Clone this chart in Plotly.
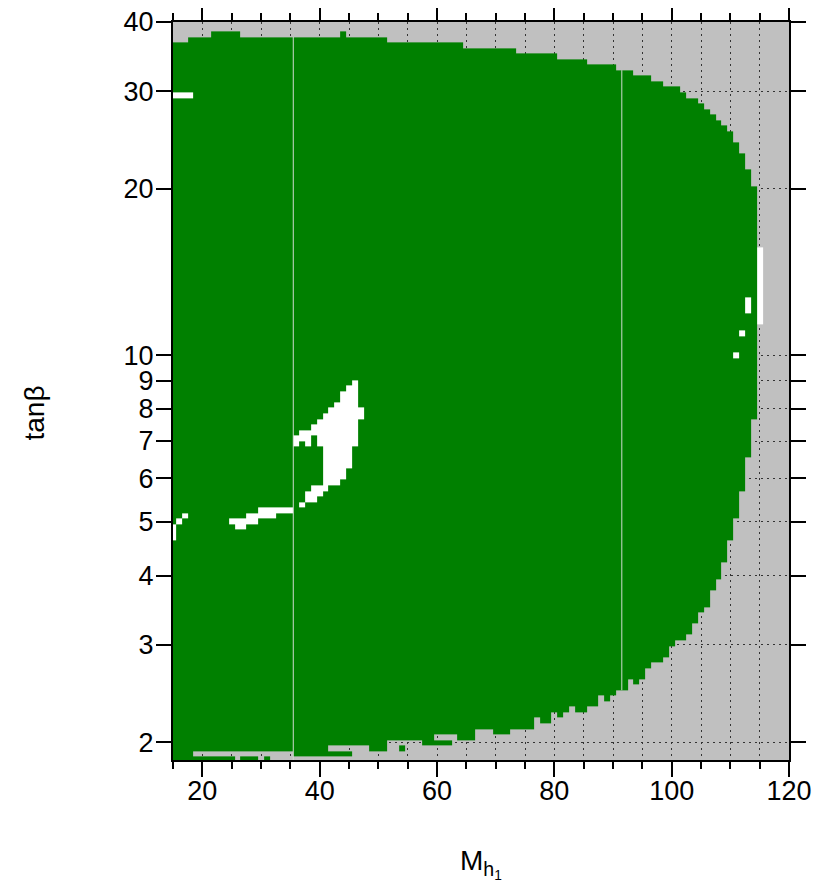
import numpy as np
import plotly.graph_objects as go

# ---------------- data ----------------
# scan columns: M_h1 in GeV (1 GeV steps); rows: 100*log10(tan beta) (0.01 decade steps)
M_cols = list(range(15, 121))
row_min, row_max = 27, 160

# highest / lowest row (100*log10 tanb) of the green (allowed) region, per column M = 15..114
top_row = [
    156, 156, 156, 157, 157, 157, 157, 158, 158, 158,
    158, 158, 157, 157, 157, 157, 157, 157, 157, 157,
    157, 157, 157, 157, 157, 157, 157, 157, 157, 158,
    157, 157, 157, 157, 157, 157, 157, 156, 156, 156,
    156, 156, 156, 156, 156, 156, 156, 156, 156, 156,
    155, 155, 155, 155, 155, 155, 155, 155, 155, 154,
    154, 154, 154, 154, 154, 154, 153, 153, 153, 153,
    153, 152, 152, 152, 152, 152, 151, 151, 151, 150,
    150, 150, 149, 149, 148, 148, 148, 147, 146, 146,
    145, 144, 143, 142, 141, 140, 138, 136, 133, 130,
]
bot_row = [
    27, 27, 27, 27, 27, 27, 27, 27, 27, 27,
    27, 27, 27, 27, 27, 27, 27, 27, 27, 27,
    27, 28, 28, 28, 28, 28, 28, 28, 28, 28,
    28, 30, 30, 30, 29, 29, 29, 31, 31, 29,
    31, 31, 31, 30, 30, 30, 30, 30, 32, 31,
    31, 31, 33, 33, 33, 32, 32, 32, 33, 33,
    33, 33, 35, 34, 34, 36, 35, 36, 37, 36,
    36, 37, 37, 39, 38, 39, 40, 40, 42, 41,
    42, 44, 45, 45, 46, 48, 49, 49, 50, 52,
    54, 55, 58, 60, 63, 67, 71, 76, 82, 89,
]

# excluded points inside the green area (shown as background): (M_lo, M_hi, row_lo, row_hi)
gray_holes = [
    (19, 35, 28, 28), (26, 26, 27, 27), (30, 30, 27, 27), (32, 35, 27, 27),
    (42, 45, 29, 29), (54, 54, 30, 30), (60, 62, 31, 31),
]

# white points: (M_lo, M_hi, row_lo, row_hi)
white_cells = [
    (15, 18, 147, 147),
    (15, 15, 67, 69), (16, 16, 70, 70), (17, 17, 71, 71),
    (25, 29, 70, 70), (26, 27, 69, 69), (28, 29, 71, 71), (30, 32, 71, 72), (33, 35, 72, 72),
    (36, 36, 84, 85), (37, 37, 85, 86), (37, 37, 73, 73), (38, 38, 84, 86), (38, 38, 74, 75),
    (39, 39, 86, 87), (39, 39, 74, 76), (40, 40, 84, 88), (40, 40, 75, 76), (41, 41, 76, 89),
    (42, 42, 77, 90), (43, 43, 77, 91), (44, 44, 78, 93), (45, 45, 80, 94), (46, 46, 84, 95),
    (47, 47, 89, 90),
    (111, 111, 100, 100), (112, 112, 104, 104), (113, 113, 108, 110), (115, 115, 106, 119),
]

# thin light seams between scan columns
seam_M = [35.5, 91.5]

x_ticks = [20, 40, 60, 80, 100, 120]
y_ticks = [2, 3, 4, 5, 6, 7, 8, 9, 10, 20, 30, 40]
x_title = "M<sub>h<sub>1</sub></sub>"
y_title = "tanβ"

# ---------------- build grid ----------------
rows = list(range(row_min, row_max + 1))
nr, nc = len(rows), len(M_cols)
z = np.full((nr, nc), np.nan)
for j, (t, b) in enumerate(zip(top_row, bot_row)):
    for i, r in enumerate(rows):
        if b <= r <= t:
            z[i, j] = 1.0


def col_idx(m):
    return M_cols.index(m)


for (m0, m1, r0, r1) in gray_holes:
    for m in range(m0, m1 + 1):
        for r in range(r0, r1 + 1):
            z[r - row_min, col_idx(m)] = np.nan
for (m0, m1, r0, r1) in white_cells:
    for m in range(m0, m1 + 1):
        for r in range(r0, r1 + 1):
            z[r - row_min, col_idx(m)] = 2.0

x_edges = [m - 0.5 for m in M_cols] + [M_cols[-1] + 0.5]
y_edges = [10 ** ((r - 0.5) / 100.0) for r in rows] + [10 ** ((rows[-1] + 0.5) / 100.0)]

fig = go.Figure()
fig.add_trace(go.Heatmap(
    x=x_edges, y=y_edges, z=z,
    colorscale=[[0, "#008000"], [0.5, "#008000"], [0.5, "#ffffff"], [1, "#ffffff"]],
    zmin=1, zmax=2, showscale=False, hoverinfo="skip",
))

for s in seam_M:
    j = col_idx(int(s - 0.5))
    fig.add_trace(go.Scatter(
        x=[s, s],
        y=[10 ** ((bot_row[j] - 0.5) / 100.0), 10 ** ((top_row[j] + 0.5) / 100.0)],
        mode="lines", line=dict(color="#cfdacf", width=1),
        hoverinfo="skip", showlegend=False,
    ))

family = "Liberation Sans, Arial, Helvetica, sans-serif"
font = dict(family=family, size=27, color="black")
grid = dict(showgrid=True, gridcolor="#333333", gridwidth=1, griddash="2px,4px")

fig.update_xaxes(
    range=[15, 120], tickvals=x_ticks, ticks="outside", ticklen=15, tickwidth=2,
    tickcolor="black", showline=True, linewidth=2, linecolor="black", mirror="allticks",
    zeroline=False, tickfont=font, automargin=False, ticklabeloverflow="allow",
    ticklabelstandoff=-9,
    minor=dict(dtick=5, tick0=0, ticks="outside", ticklen=7, tickwidth=2, tickcolor="black",
               showgrid=True, gridcolor="#333333", gridwidth=1, griddash="2px,4px"),
    **grid,
)
fig.update_yaxes(
    type="log", range=[np.log10(1.857), np.log10(40)],
    tickvals=y_ticks, ticktext=[str(v) for v in y_ticks],
    ticks="outside", ticklen=15, tickwidth=2, tickcolor="black",
    showline=True, linewidth=2, linecolor="black", mirror="allticks",
    zeroline=False, tickfont=font, automargin=False, ticklabeloverflow="allow",
    ticklabelstandoff=-3,
    **grid,
)
fig.update_layout(
    width=836, height=887,
    margin=dict(l=165, r=55, t=14, b=135, autoexpand=False),
    paper_bgcolor="white", plot_bgcolor="#c0c0c0",
    showlegend=False,
    annotations=[
        dict(text=x_title, xref="paper", yref="paper", x=0.5, y=-0.112,
             xanchor="center", yanchor="top", showarrow=False,
             font=dict(family=family, size=28, color="black")),
        dict(text=y_title, xref="paper", yref="paper", x=-0.225, y=0.47,
             xanchor="center", yanchor="middle", textangle=-90, showarrow=False,
             font=dict(family=family, size=28, color="black")),
    ],
)
fig.write_html("out.html")
